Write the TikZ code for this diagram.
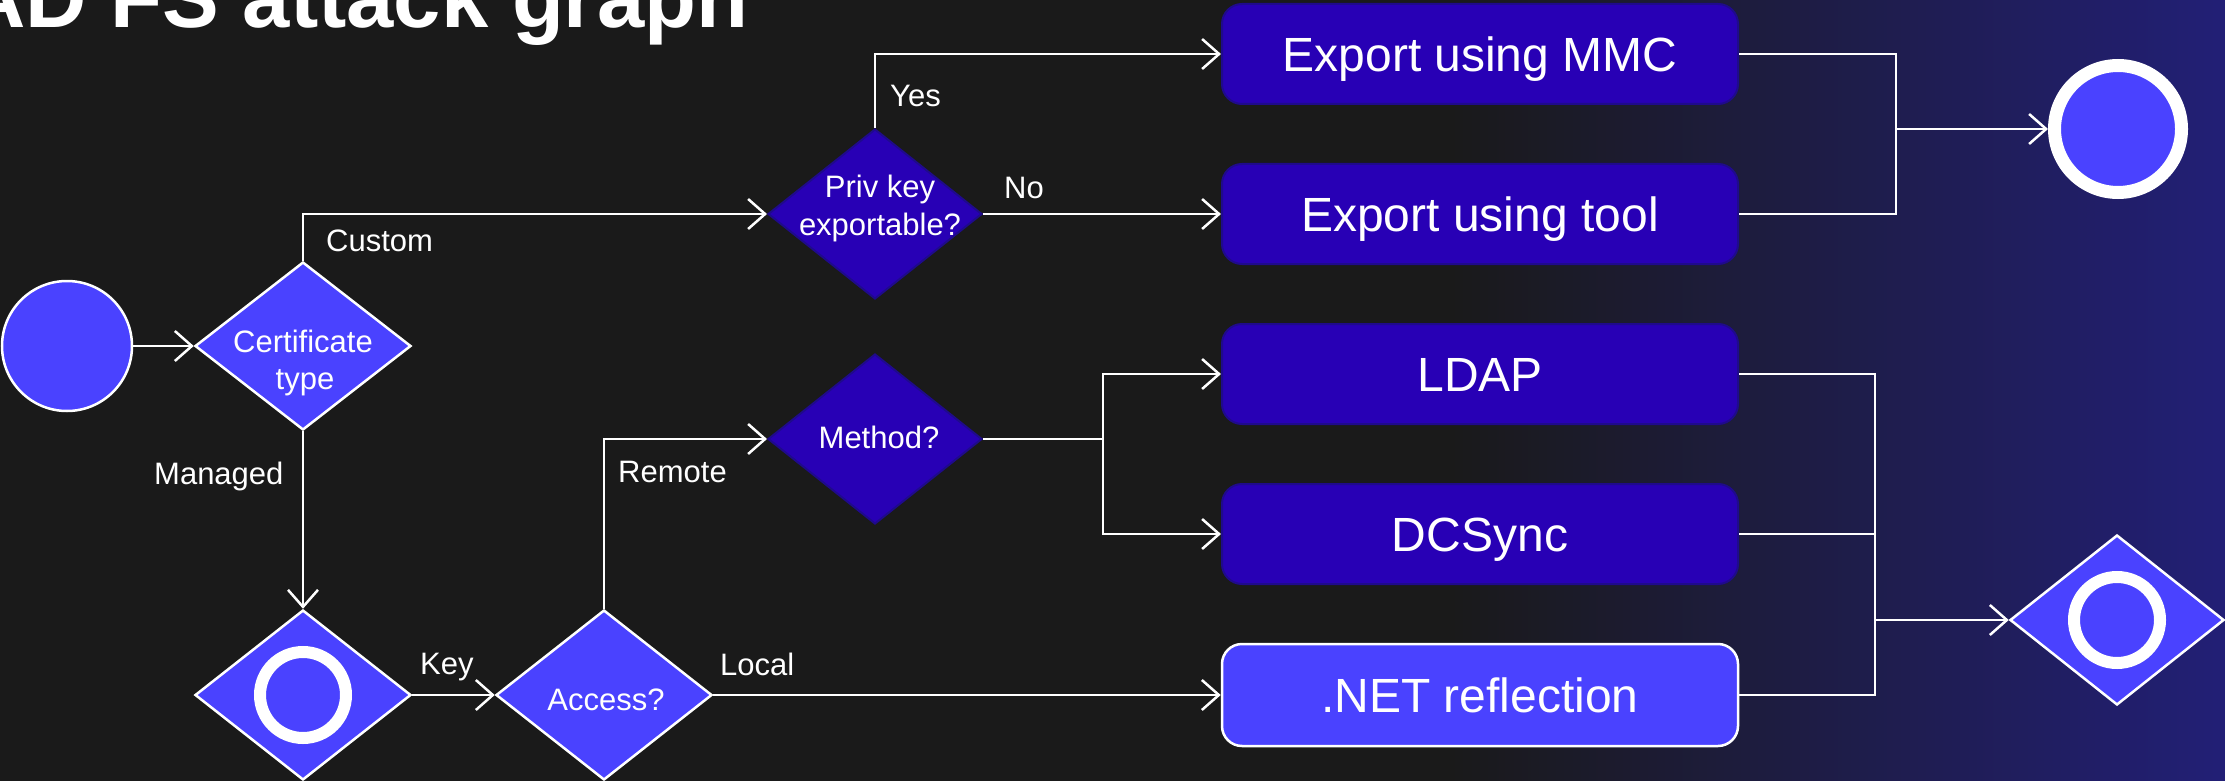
\documentclass[tikz,border=0pt]{standalone}
\usepackage{fontspec}
\setmainfont{Liberation Sans}
\usetikzlibrary{shapes.geometric,arrows.meta}
\definecolor{bgdark}{HTML}{1A1A1A}
\definecolor{bgnavy}{HTML}{221F76}
\definecolor{brightblue}{HTML}{4A42FF}
\definecolor{deepblue}{HTML}{2800B5}
\definecolor{deepedge}{HTML}{1F0A8C}

\begin{document}
\begin{tikzpicture}[x=1pt,y=-1pt,
  conn/.style={white,line width=2.5pt},
  arr/.style={conn,-{Straight Barb[length=17pt,width=30pt]}},
  lbl/.style={text=white,inner sep=0pt,anchor=base west,font=\fontsize{31}{36}\selectfont},
  dtext/.style={text=white,inner sep=0pt,anchor=base,font=\fontsize{31}{36}\selectfont},
  decbright/.style={diamond,draw=white,line width=2.5pt,fill=brightblue,
    minimum width=216pt,minimum height=168pt,inner sep=0pt},
  decdeep/.style={diamond,draw=deepedge,line width=2pt,fill=deepblue,
    minimum width=214pt,minimum height=168pt,inner sep=0pt},
  boxdeep/.style={rectangle,rounded corners=20pt,draw=deepedge,line width=2pt,
    fill=deepblue,minimum width=516pt,minimum height=100pt,inner sep=0pt,
    text=white,text height=34.4pt,text depth=0pt,font=\fontsize{48}{56}\selectfont},
  boxbright/.style={boxdeep,draw=white,line width=2.5pt,fill=brightblue,minimum height=102pt},
  ring/.style={draw=white,line width=12pt},
  startnode/.style={circle,draw=white,line width=2.5pt,fill=brightblue,minimum size=130pt,inner sep=0pt},
  endnode/.style={circle,draw=white,line width=13pt,fill=brightblue,minimum size=127pt,inner sep=0pt}
]
% background with the navy glow on the right
\clip (0,0) rectangle (2225,781);
\fill[bgdark] (0,0) rectangle (2225,781);
\shade[left color=bgdark,right color=bgnavy] (1450,0) rectangle (2225,781);

% title
\node[text=white,inner sep=0pt,anchor=base west,font=\bfseries\fontsize{85}{96}\selectfont]
  (title) at (-36,28) {AD FS attack graph};

% decisions and steps
\node[startnode] (start) at (67,346) {};
\node[decbright] (cert) at (303,346) {};
\node[dtext] (certa) at (303,352) {Certificate};
\node[dtext] (certb) at (305,389) {type};

\node[decdeep,minimum height=170pt] (priv) at (875,214) {};
\node[dtext] (priva) at (880,197) {Priv key};
\node[dtext] (privb) at (880,235) {exportable?};

\node[decdeep,minimum height=170pt] (method) at (875,439) {};
\node[dtext] (methodt) at (879,448) {Method?};

\node[decbright,minimum height=170pt] (keyd) at (303,695) {};
\draw[ring] (keyd.center) circle[radius=43];

\node[decbright,minimum height=170pt] (access) at (604,695) {};
\node[dtext] (accesst) at (606,710) {Access?};

\node[boxdeep] (mmc) at (1480,54) {Export using MMC};
\node[boxdeep] (tool) at (1480,214) {Export using tool};
\node[boxdeep] (ldap) at (1480,374) {LDAP};
\node[boxdeep] (dcs) at (1480,534) {DCSync};
\node[boxbright] (net) at (1480,695) {.NET reflection};

\node[endnode] (endc) at (2118,129) {};
\node[decbright,minimum width=214pt,minimum height=170pt] (endd) at (2117,620) {};
\draw[ring] (endd.center) circle[radius=43];

% junction points
\coordinate (msplit) at (1103,439);
\coordinate (jtop) at (1896,129);
\coordinate (jbot) at (1875,620);

% connectors
\draw[arr] (start) -- (cert);
\draw[arr] (cert.north) |- (priv.west);
\draw[arr] (priv.north) |- (mmc.west);
\draw[arr] (priv.east) -- (tool.west);
\draw[arr] (cert.south) -- (keyd.north);
\draw[arr] (keyd.east) -- (access.west);
\draw[arr] (access.north) |- (method.west);
\draw[arr] (access.east) -- (net.west);
\draw[conn] (method.east) -- (msplit);
\draw[arr] (msplit) |- (ldap.west);
\draw[arr] (msplit) |- (dcs.west);
\draw[conn] (mmc.east) -| (jtop);
\draw[conn] (tool.east) -| (jtop);
\draw[arr] (jtop) -- (endc);
\draw[conn] (ldap.east) -| (jbot);
\draw[conn] (dcs.east) -| (jbot);
\draw[conn] (net.east) -| (jbot);
\draw[arr] (jbot) -- (endd);

% connector labels
\node[lbl] (lcustom) at (326,251) {Custom};
\node[lbl] (lyes) at (890,107) {Yes};
\node[lbl] (lno) at (1004,198) {No};
\node[lbl] (lmanaged) at (154,484) {Managed};
\node[lbl] (lremote) at (618,482) {Remote};
\node[lbl] (llocal) at (720,675) {Local};
\node[lbl] (lkey) at (420,674) {Key};
\end{tikzpicture}
\end{document}
